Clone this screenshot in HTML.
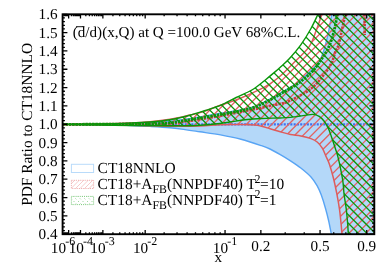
<!DOCTYPE html>
<html><head><meta charset="utf-8"><title>PDF Ratio</title>
<style>html,body{margin:0;padding:0;background:#fff;}body{width:390px;height:273px;overflow:hidden;font-family:"Liberation Serif",serif;}svg{display:block;will-change:transform;}</style>
</head><body>
<svg width="390" height="273" viewBox="0 0 390 273">
<defs>
<clipPath id="cf"><rect x="62.60" y="14.30" width="311.70" height="219.90"/></clipPath>
<clipPath id="cr"><path d="M62.40,124.40 C68.67,124.30 88.73,124.03 100.00,123.80 C111.27,123.57 121.67,123.33 130.00,123.00 C138.33,122.67 143.33,122.42 150.00,121.80 C156.67,121.18 163.33,120.43 170.00,119.30 C176.67,118.17 185.00,116.12 190.00,115.00 C195.00,113.88 194.92,114.22 200.00,112.60 C205.08,110.98 213.67,107.73 220.50,105.30 C227.33,102.87 234.17,100.77 241.00,98.00 C247.83,95.23 256.67,91.07 261.50,88.70 C266.33,86.33 266.92,85.87 270.00,83.80 C273.08,81.73 276.23,79.60 280.00,76.30 C283.77,73.00 287.77,68.90 292.60,64.00 C297.43,59.10 305.07,52.48 309.00,46.90 C312.93,41.32 314.05,35.98 316.20,30.50 C318.35,25.02 320.95,16.75 321.90,14.00 L374.30,14.30 L374.30,234.20 L342.00,234.00 C341.83,232.17 341.43,227.22 341.00,223.00 C340.57,218.78 340.10,213.58 339.40,208.70 C338.70,203.82 337.77,198.70 336.80,193.70 C335.83,188.70 334.82,183.58 333.60,178.70 C332.38,173.82 330.80,168.18 329.50,164.40 C328.20,160.62 327.00,158.70 325.80,156.00 C324.60,153.30 323.73,150.53 322.30,148.20 C320.87,145.87 319.08,143.60 317.20,142.00 C315.32,140.40 313.73,139.62 311.00,138.60 C308.27,137.58 304.22,136.58 300.80,135.90 C297.38,135.22 293.92,135.18 290.50,134.50 C287.08,133.82 283.72,132.77 280.30,131.80 C276.88,130.83 273.13,129.62 270.00,128.70 C266.87,127.78 264.00,126.92 261.50,126.30 C259.00,125.68 258.42,125.28 255.00,125.00 C251.58,124.72 246.83,124.63 241.00,124.60 C235.17,124.57 226.83,124.57 220.00,124.80 C213.17,125.03 208.33,125.75 200.00,126.00 C191.67,126.25 181.67,126.43 170.00,126.30 C158.33,126.17 147.93,125.52 130.00,125.20 C112.07,124.88 73.67,124.53 62.40,124.40 Z"/></clipPath>
<clipPath id="cg"><path d="M62.40,124.40 C68.67,124.32 88.73,124.12 100.00,123.90 C111.27,123.68 121.67,123.42 130.00,123.10 C138.33,122.78 143.33,122.57 150.00,122.00 C156.67,121.43 163.33,120.83 170.00,119.70 C176.67,118.57 184.10,116.73 190.00,115.20 C195.90,113.67 200.27,112.17 205.40,110.50 C210.53,108.83 215.67,107.37 220.80,105.20 C225.93,103.03 231.33,99.87 236.20,97.50 C241.07,95.13 246.87,92.58 250.00,91.00 C253.13,89.42 252.50,89.80 255.00,88.00 C257.50,86.20 261.67,82.88 265.00,80.20 C268.33,77.52 272.50,74.02 275.00,71.90 C277.50,69.78 277.58,69.73 280.00,67.50 C282.42,65.27 286.03,62.27 289.50,58.50 C292.97,54.73 297.22,49.90 300.80,44.90 C304.38,39.90 308.12,33.65 311.00,28.50 C313.88,23.35 316.92,16.42 318.10,14.00 L374.30,14.30 L374.30,234.20 L348.30,234.00 C348.18,232.17 347.95,227.22 347.60,223.00 C347.25,218.78 346.78,213.48 346.20,208.70 C345.62,203.92 344.67,198.95 344.10,194.30 C343.53,189.65 343.53,185.78 342.80,180.80 C342.07,175.82 340.55,168.53 339.70,164.40 C338.85,160.27 338.38,158.53 337.70,156.00 C337.02,153.47 336.63,152.38 335.60,149.20 C334.57,146.02 332.68,140.32 331.50,136.90 C330.32,133.48 329.68,131.27 328.50,128.70 C327.32,126.13 325.95,123.55 324.40,121.50 C322.85,119.45 321.10,117.58 319.20,116.40 C317.30,115.22 315.38,114.57 313.00,114.40 C310.62,114.23 308.65,114.90 304.90,115.40 C301.15,115.90 294.65,116.97 290.50,117.40 C286.35,117.83 284.83,117.82 280.00,118.00 C275.17,118.18 267.33,118.20 261.50,118.50 C255.67,118.80 250.25,119.22 245.00,119.80 C239.75,120.38 235.00,121.30 230.00,122.00 C225.00,122.70 220.00,123.47 215.00,124.00 C210.00,124.53 205.00,124.92 200.00,125.20 C195.00,125.48 190.00,125.60 185.00,125.70 C180.00,125.80 179.17,125.83 170.00,125.80 C160.83,125.77 147.93,125.73 130.00,125.50 C112.07,125.27 73.67,124.58 62.40,124.40 Z"/></clipPath>
</defs>
<rect width="390" height="273" fill="#fff"/>
<g clip-path="url(#cf)">
<path d="M62.40,124.40 C68.67,124.33 88.73,124.17 100.00,124.00 C111.27,123.83 121.67,123.63 130.00,123.40 C138.33,123.17 143.33,122.97 150.00,122.60 C156.67,122.23 164.17,121.75 170.00,121.20 C175.83,120.65 180.00,120.02 185.00,119.30 C190.00,118.58 194.08,117.90 200.00,116.90 C205.92,115.90 213.67,114.45 220.50,113.30 C227.33,112.15 235.25,111.15 241.00,110.00 C246.75,108.85 250.70,107.93 255.00,106.40 C259.30,104.87 263.47,102.47 266.80,100.80 C270.13,99.13 272.47,97.83 275.00,96.40 C277.53,94.97 279.42,93.73 282.00,92.20 C284.58,90.67 287.50,89.13 290.50,87.20 C293.50,85.27 296.58,83.37 300.00,80.60 C303.42,77.83 307.73,73.87 311.00,70.60 C314.27,67.33 317.28,64.95 319.60,61.00 C321.92,57.05 323.37,51.98 324.90,46.90 C326.43,41.82 327.65,35.98 328.80,30.50 C329.95,25.02 331.30,16.75 331.80,14.00 L374.30,14.30 L374.30,234.20 L331.30,234.00 C330.87,231.83 329.65,225.22 328.70,221.00 C327.75,216.78 326.83,213.02 325.60,208.70 C324.37,204.38 322.70,198.90 321.30,195.10 C319.90,191.30 318.92,188.92 317.20,185.90 C315.48,182.88 313.73,179.98 311.00,177.00 C308.27,174.02 304.22,170.70 300.80,168.00 C297.38,165.30 293.92,163.03 290.50,160.80 C287.08,158.57 283.72,156.57 280.30,154.60 C276.88,152.63 273.13,150.48 270.00,149.00 C266.87,147.52 266.33,147.32 261.50,145.70 C256.67,144.08 247.83,141.10 241.00,139.30 C234.17,137.50 227.33,136.15 220.50,134.90 C213.67,133.65 205.92,132.68 200.00,131.80 C194.08,130.92 190.00,130.28 185.00,129.60 C180.00,128.92 175.83,128.23 170.00,127.70 C164.17,127.17 156.67,126.77 150.00,126.40 C143.33,126.03 138.33,125.80 130.00,125.50 C121.67,125.20 111.27,124.78 100.00,124.60 C88.73,124.42 68.67,124.43 62.40,124.40 Z" fill="#b4d8f9"/>
<path d="M62.40,124.40 C68.67,124.33 88.73,124.17 100.00,124.00 C111.27,123.83 121.67,123.63 130.00,123.40 C138.33,123.17 143.33,122.97 150.00,122.60 C156.67,122.23 164.17,121.75 170.00,121.20 C175.83,120.65 180.00,120.02 185.00,119.30 C190.00,118.58 194.08,117.90 200.00,116.90 C205.92,115.90 213.67,114.45 220.50,113.30 C227.33,112.15 235.25,111.15 241.00,110.00 C246.75,108.85 250.70,107.93 255.00,106.40 C259.30,104.87 263.47,102.47 266.80,100.80 C270.13,99.13 272.47,97.83 275.00,96.40 C277.53,94.97 279.42,93.73 282.00,92.20 C284.58,90.67 287.50,89.13 290.50,87.20 C293.50,85.27 296.58,83.37 300.00,80.60 C303.42,77.83 307.73,73.87 311.00,70.60 C314.27,67.33 317.28,64.95 319.60,61.00 C321.92,57.05 323.37,51.98 324.90,46.90 C326.43,41.82 327.65,35.98 328.80,30.50 C329.95,25.02 331.30,16.75 331.80,14.00" fill="none" stroke="#58a4f4" stroke-width="1.4"/>
<path d="M62.40,124.40 C68.67,124.43 88.73,124.42 100.00,124.60 C111.27,124.78 121.67,125.20 130.00,125.50 C138.33,125.80 143.33,126.03 150.00,126.40 C156.67,126.77 164.17,127.17 170.00,127.70 C175.83,128.23 180.00,128.92 185.00,129.60 C190.00,130.28 194.08,130.92 200.00,131.80 C205.92,132.68 213.67,133.65 220.50,134.90 C227.33,136.15 234.17,137.50 241.00,139.30 C247.83,141.10 256.67,144.08 261.50,145.70 C266.33,147.32 266.87,147.52 270.00,149.00 C273.13,150.48 276.88,152.63 280.30,154.60 C283.72,156.57 287.08,158.57 290.50,160.80 C293.92,163.03 297.38,165.30 300.80,168.00 C304.22,170.70 308.27,174.02 311.00,177.00 C313.73,179.98 315.48,182.88 317.20,185.90 C318.92,188.92 319.90,191.30 321.30,195.10 C322.70,198.90 324.37,204.38 325.60,208.70 C326.83,213.02 327.75,216.78 328.70,221.00 C329.65,225.22 330.87,231.83 331.30,234.00" fill="none" stroke="#58a4f4" stroke-width="1.4"/>
<path d="M62.60,124.35 L374.30,124.35" stroke="#3f6ff0" stroke-width="2.4" stroke-dasharray="2.1 1.2" fill="none"/>
<g clip-path="url(#cr)"><path d="M50.00,7.70 L390.00,-332.30 M50.00,16.16 L390.00,-323.84 M50.00,24.62 L390.00,-315.38 M50.00,33.08 L390.00,-306.92 M50.00,41.54 L390.00,-298.46 M50.00,50.00 L390.00,-290.00 M50.00,58.46 L390.00,-281.54 M50.00,66.92 L390.00,-273.08 M50.00,75.38 L390.00,-264.62 M50.00,83.84 L390.00,-256.16 M50.00,92.30 L390.00,-247.70 M50.00,100.76 L390.00,-239.24 M50.00,109.22 L390.00,-230.78 M50.00,117.68 L390.00,-222.32 M50.00,126.14 L390.00,-213.86 M50.00,134.60 L390.00,-205.40 M50.00,143.06 L390.00,-196.94 M50.00,151.52 L390.00,-188.48 M50.00,159.98 L390.00,-180.02 M50.00,168.44 L390.00,-171.56 M50.00,176.90 L390.00,-163.10 M50.00,185.36 L390.00,-154.64 M50.00,193.82 L390.00,-146.18 M50.00,202.28 L390.00,-137.72 M50.00,210.74 L390.00,-129.26 M50.00,219.20 L390.00,-120.80 M50.00,227.66 L390.00,-112.34 M50.00,236.12 L390.00,-103.88 M50.00,244.58 L390.00,-95.42 M50.00,253.04 L390.00,-86.96 M50.00,261.50 L390.00,-78.50 M50.00,269.96 L390.00,-70.04 M50.00,278.42 L390.00,-61.58 M50.00,286.88 L390.00,-53.12 M50.00,295.34 L390.00,-44.66 M50.00,303.80 L390.00,-36.20 M50.00,312.26 L390.00,-27.74 M50.00,320.72 L390.00,-19.28 M50.00,329.18 L390.00,-10.82 M50.00,337.64 L390.00,-2.36 M50.00,346.10 L390.00,6.10 M50.00,354.56 L390.00,14.56 M50.00,363.02 L390.00,23.02 M50.00,371.48 L390.00,31.48 M50.00,379.94 L390.00,39.94 M50.00,388.40 L390.00,48.40 M50.00,396.86 L390.00,56.86 M50.00,405.32 L390.00,65.32 M50.00,413.78 L390.00,73.78 M50.00,422.24 L390.00,82.24 M50.00,430.70 L390.00,90.70 M50.00,439.16 L390.00,99.16 M50.00,447.62 L390.00,107.62 M50.00,456.08 L390.00,116.08 M50.00,464.54 L390.00,124.54 M50.00,473.00 L390.00,133.00 M50.00,481.46 L390.00,141.46 M50.00,489.92 L390.00,149.92 M50.00,498.38 L390.00,158.38 M50.00,506.84 L390.00,166.84 M50.00,515.30 L390.00,175.30 M50.00,523.76 L390.00,183.76 M50.00,532.22 L390.00,192.22 M50.00,540.68 L390.00,200.68 M50.00,549.14 L390.00,209.14 M50.00,557.60 L390.00,217.60 M50.00,566.06 L390.00,226.06 M50.00,574.52 L390.00,234.52 M50.00,582.98 L390.00,242.98 M50.00,591.44 L390.00,251.44 M50.00,599.90 L390.00,259.90 M50.00,608.36 L390.00,268.36" stroke="#e06464" stroke-width="1.35" fill="none"/></g>
<path d="M62.40,124.40 C68.67,124.30 88.73,124.03 100.00,123.80 C111.27,123.57 121.67,123.33 130.00,123.00 C138.33,122.67 143.33,122.42 150.00,121.80 C156.67,121.18 163.33,120.43 170.00,119.30 C176.67,118.17 185.00,116.12 190.00,115.00 C195.00,113.88 194.92,114.22 200.00,112.60 C205.08,110.98 213.67,107.73 220.50,105.30 C227.33,102.87 234.17,100.77 241.00,98.00 C247.83,95.23 256.67,91.07 261.50,88.70 C266.33,86.33 266.92,85.87 270.00,83.80 C273.08,81.73 276.23,79.60 280.00,76.30 C283.77,73.00 287.77,68.90 292.60,64.00 C297.43,59.10 305.07,52.48 309.00,46.90 C312.93,41.32 314.05,35.98 316.20,30.50 C318.35,25.02 320.95,16.75 321.90,14.00" fill="none" stroke="#de5c5c" stroke-width="1.5"/>
<path d="M62.40,124.40 C73.67,124.53 112.07,124.88 130.00,125.20 C147.93,125.52 158.33,126.17 170.00,126.30 C181.67,126.43 191.67,126.25 200.00,126.00 C208.33,125.75 213.17,125.03 220.00,124.80 C226.83,124.57 235.17,124.57 241.00,124.60 C246.83,124.63 251.58,124.72 255.00,125.00 C258.42,125.28 259.00,125.68 261.50,126.30 C264.00,126.92 266.87,127.78 270.00,128.70 C273.13,129.62 276.88,130.83 280.30,131.80 C283.72,132.77 287.08,133.82 290.50,134.50 C293.92,135.18 297.38,135.22 300.80,135.90 C304.22,136.58 308.27,137.58 311.00,138.60 C313.73,139.62 315.32,140.40 317.20,142.00 C319.08,143.60 320.87,145.87 322.30,148.20 C323.73,150.53 324.60,153.30 325.80,156.00 C327.00,158.70 328.20,160.62 329.50,164.40 C330.80,168.18 332.38,173.82 333.60,178.70 C334.82,183.58 335.83,188.70 336.80,193.70 C337.77,198.70 338.70,203.82 339.40,208.70 C340.10,213.58 340.57,218.78 341.00,223.00 C341.43,227.22 341.83,232.17 342.00,234.00" fill="none" stroke="#de5c5c" stroke-width="1.5"/>
<path d="M62.40,124.40 C77.00,124.33 132.07,124.15 150.00,124.00 C167.93,123.85 164.17,123.92 170.00,123.50 C175.83,123.08 180.00,122.20 185.00,121.50 C190.00,120.80 194.08,120.25 200.00,119.30 C205.92,118.35 213.67,117.05 220.50,115.80 C227.33,114.55 234.17,113.13 241.00,111.80 C247.83,110.47 256.67,108.80 261.50,107.80 C266.33,106.80 266.92,106.47 270.00,105.80 C273.08,105.13 276.58,104.68 280.00,103.80 C283.42,102.92 285.33,103.02 290.50,100.50 C295.67,97.98 305.53,92.88 311.00,88.70 C316.47,84.52 319.88,79.68 323.30,75.40 C326.72,71.12 329.45,67.07 331.50,63.00 C333.55,58.93 334.42,54.02 335.60,51.00 C336.78,47.98 337.57,48.32 338.60,44.90 C339.63,41.48 340.67,35.65 341.80,30.50 C342.93,25.35 344.80,16.75 345.40,14.00" fill="none" stroke="#c83c3c" stroke-width="2.6" stroke-dasharray="2.4 0.9"/>
<path d="M364.6,14 L364.7,35" fill="none" stroke="#c83c3c" stroke-width="2.6" stroke-dasharray="2.4 0.9"/>
<g clip-path="url(#cg)"><path d="M50.00,-337.30 L390.00,2.70 M50.00,-328.84 L390.00,11.16 M50.00,-320.38 L390.00,19.62 M50.00,-311.92 L390.00,28.08 M50.00,-303.46 L390.00,36.54 M50.00,-295.00 L390.00,45.00 M50.00,-286.54 L390.00,53.46 M50.00,-278.08 L390.00,61.92 M50.00,-269.62 L390.00,70.38 M50.00,-261.16 L390.00,78.84 M50.00,-252.70 L390.00,87.30 M50.00,-244.24 L390.00,95.76 M50.00,-235.78 L390.00,104.22 M50.00,-227.32 L390.00,112.68 M50.00,-218.86 L390.00,121.14 M50.00,-210.40 L390.00,129.60 M50.00,-201.94 L390.00,138.06 M50.00,-193.48 L390.00,146.52 M50.00,-185.02 L390.00,154.98 M50.00,-176.56 L390.00,163.44 M50.00,-168.10 L390.00,171.90 M50.00,-159.64 L390.00,180.36 M50.00,-151.18 L390.00,188.82 M50.00,-142.72 L390.00,197.28 M50.00,-134.26 L390.00,205.74 M50.00,-125.80 L390.00,214.20 M50.00,-117.34 L390.00,222.66 M50.00,-108.88 L390.00,231.12 M50.00,-100.42 L390.00,239.58 M50.00,-91.96 L390.00,248.04 M50.00,-83.50 L390.00,256.50 M50.00,-75.04 L390.00,264.96 M50.00,-66.58 L390.00,273.42 M50.00,-58.12 L390.00,281.88 M50.00,-49.66 L390.00,290.34 M50.00,-41.20 L390.00,298.80 M50.00,-32.74 L390.00,307.26 M50.00,-24.28 L390.00,315.72 M50.00,-15.82 L390.00,324.18 M50.00,-7.36 L390.00,332.64 M50.00,1.10 L390.00,341.10 M50.00,9.56 L390.00,349.56 M50.00,18.02 L390.00,358.02 M50.00,26.48 L390.00,366.48 M50.00,34.94 L390.00,374.94 M50.00,43.40 L390.00,383.40 M50.00,51.86 L390.00,391.86 M50.00,60.32 L390.00,400.32 M50.00,68.78 L390.00,408.78 M50.00,77.24 L390.00,417.24 M50.00,85.70 L390.00,425.70 M50.00,94.16 L390.00,434.16 M50.00,102.62 L390.00,442.62 M50.00,111.08 L390.00,451.08 M50.00,119.54 L390.00,459.54 M50.00,128.00 L390.00,468.00 M50.00,136.46 L390.00,476.46 M50.00,144.92 L390.00,484.92 M50.00,153.38 L390.00,493.38 M50.00,161.84 L390.00,501.84 M50.00,170.30 L390.00,510.30 M50.00,178.76 L390.00,518.76 M50.00,187.22 L390.00,527.22 M50.00,195.68 L390.00,535.68 M50.00,204.14 L390.00,544.14 M50.00,212.60 L390.00,552.60 M50.00,221.06 L390.00,561.06 M50.00,229.52 L390.00,569.52 M50.00,237.98 L390.00,577.98 M50.00,246.44 L390.00,586.44 M50.00,254.90 L390.00,594.90 M50.00,263.36 L390.00,603.36 M50.00,271.82 L390.00,611.82" stroke="#0a960a" stroke-width="1.3" fill="none"/></g>
<path d="M62.40,124.40 C68.67,124.32 88.73,124.12 100.00,123.90 C111.27,123.68 121.67,123.42 130.00,123.10 C138.33,122.78 143.33,122.57 150.00,122.00 C156.67,121.43 163.33,120.83 170.00,119.70 C176.67,118.57 184.10,116.73 190.00,115.20 C195.90,113.67 200.27,112.17 205.40,110.50 C210.53,108.83 215.67,107.37 220.80,105.20 C225.93,103.03 231.33,99.87 236.20,97.50 C241.07,95.13 246.87,92.58 250.00,91.00 C253.13,89.42 252.50,89.80 255.00,88.00 C257.50,86.20 261.67,82.88 265.00,80.20 C268.33,77.52 272.50,74.02 275.00,71.90 C277.50,69.78 277.58,69.73 280.00,67.50 C282.42,65.27 286.03,62.27 289.50,58.50 C292.97,54.73 297.22,49.90 300.80,44.90 C304.38,39.90 308.12,33.65 311.00,28.50 C313.88,23.35 316.92,16.42 318.10,14.00" fill="none" stroke="#0a960a" stroke-width="1.4"/>
<path d="M62.40,124.40 C73.67,124.58 112.07,125.27 130.00,125.50 C147.93,125.73 160.83,125.77 170.00,125.80 C179.17,125.83 180.00,125.80 185.00,125.70 C190.00,125.60 195.00,125.48 200.00,125.20 C205.00,124.92 210.00,124.53 215.00,124.00 C220.00,123.47 225.00,122.70 230.00,122.00 C235.00,121.30 239.75,120.38 245.00,119.80 C250.25,119.22 255.67,118.80 261.50,118.50 C267.33,118.20 275.17,118.18 280.00,118.00 C284.83,117.82 286.35,117.83 290.50,117.40 C294.65,116.97 301.15,115.90 304.90,115.40 C308.65,114.90 310.62,114.23 313.00,114.40 C315.38,114.57 317.30,115.22 319.20,116.40 C321.10,117.58 322.85,119.45 324.40,121.50 C325.95,123.55 327.32,126.13 328.50,128.70 C329.68,131.27 330.32,133.48 331.50,136.90 C332.68,140.32 334.57,146.02 335.60,149.20 C336.63,152.38 337.02,153.47 337.70,156.00 C338.38,158.53 338.85,160.27 339.70,164.40 C340.55,168.53 342.07,175.82 342.80,180.80 C343.53,185.78 343.53,189.65 344.10,194.30 C344.67,198.95 345.62,203.92 346.20,208.70 C346.78,213.48 347.25,218.78 347.60,223.00 C347.95,227.22 348.18,232.17 348.30,234.00" fill="none" stroke="#0a960a" stroke-width="1.4"/>
<path d="M62.40,124.40 C73.67,124.33 115.40,124.10 130.00,124.00 C144.60,123.90 143.33,124.00 150.00,123.80 C156.67,123.60 164.17,123.35 170.00,122.80 C175.83,122.25 180.00,121.30 185.00,120.50 C190.00,119.70 194.17,118.98 200.00,118.00 C205.83,117.02 213.17,115.83 220.00,114.60 C226.83,113.37 235.17,111.87 241.00,110.60 C246.83,109.33 250.70,108.52 255.00,107.00 C259.30,105.48 263.47,103.13 266.80,101.50 C270.13,99.87 272.47,98.62 275.00,97.20 C277.53,95.78 278.38,95.13 282.00,93.00 C285.62,90.87 291.87,87.77 296.70,84.40 C301.53,81.03 307.07,76.70 311.00,72.80 C314.93,68.90 317.33,65.32 320.30,61.00 C323.27,56.68 326.48,51.98 328.80,46.90 C331.12,41.82 332.77,35.98 334.20,30.50 C335.63,25.02 336.87,16.75 337.40,14.00" fill="none" stroke="#0a960a" stroke-width="2.8" stroke-dasharray="2.4 0.9"/>
</g>
<rect x="62.60" y="14.30" width="311.70" height="219.90" fill="none" stroke="#000" stroke-width="1.9"/>
<path d="M62.60,234.20 h4.80 M374.30,234.20 h-4.80 M62.60,230.53 h2.30 M374.30,230.53 h-2.30 M62.60,226.87 h2.30 M374.30,226.87 h-2.30 M62.60,223.20 h2.30 M374.30,223.20 h-2.30 M62.60,219.54 h2.30 M374.30,219.54 h-2.30 M62.60,215.88 h4.80 M374.30,215.88 h-4.80 M62.60,212.21 h2.30 M374.30,212.21 h-2.30 M62.60,208.54 h2.30 M374.30,208.54 h-2.30 M62.60,204.88 h2.30 M374.30,204.88 h-2.30 M62.60,201.21 h2.30 M374.30,201.21 h-2.30 M62.60,197.55 h4.80 M374.30,197.55 h-4.80 M62.60,193.88 h2.30 M374.30,193.88 h-2.30 M62.60,190.22 h2.30 M374.30,190.22 h-2.30 M62.60,186.55 h2.30 M374.30,186.55 h-2.30 M62.60,182.89 h2.30 M374.30,182.89 h-2.30 M62.60,179.22 h4.80 M374.30,179.22 h-4.80 M62.60,175.56 h2.30 M374.30,175.56 h-2.30 M62.60,171.89 h2.30 M374.30,171.89 h-2.30 M62.60,168.23 h2.30 M374.30,168.23 h-2.30 M62.60,164.56 h2.30 M374.30,164.56 h-2.30 M62.60,160.90 h4.80 M374.30,160.90 h-4.80 M62.60,157.23 h2.30 M374.30,157.23 h-2.30 M62.60,153.57 h2.30 M374.30,153.57 h-2.30 M62.60,149.90 h2.30 M374.30,149.90 h-2.30 M62.60,146.24 h2.30 M374.30,146.24 h-2.30 M62.60,142.57 h4.80 M374.30,142.57 h-4.80 M62.60,138.91 h2.30 M374.30,138.91 h-2.30 M62.60,135.25 h2.30 M374.30,135.25 h-2.30 M62.60,131.58 h2.30 M374.30,131.58 h-2.30 M62.60,127.92 h2.30 M374.30,127.92 h-2.30 M62.60,124.25 h4.80 M374.30,124.25 h-4.80 M62.60,120.58 h2.30 M374.30,120.58 h-2.30 M62.60,116.92 h2.30 M374.30,116.92 h-2.30 M62.60,113.25 h2.30 M374.30,113.25 h-2.30 M62.60,109.59 h2.30 M374.30,109.59 h-2.30 M62.60,105.92 h4.80 M374.30,105.92 h-4.80 M62.60,102.26 h2.30 M374.30,102.26 h-2.30 M62.60,98.59 h2.30 M374.30,98.59 h-2.30 M62.60,94.93 h2.30 M374.30,94.93 h-2.30 M62.60,91.26 h2.30 M374.30,91.26 h-2.30 M62.60,87.60 h4.80 M374.30,87.60 h-4.80 M62.60,83.93 h2.30 M374.30,83.93 h-2.30 M62.60,80.27 h2.30 M374.30,80.27 h-2.30 M62.60,76.60 h2.30 M374.30,76.60 h-2.30 M62.60,72.94 h2.30 M374.30,72.94 h-2.30 M62.60,69.27 h4.80 M374.30,69.27 h-4.80 M62.60,65.61 h2.30 M374.30,65.61 h-2.30 M62.60,61.94 h2.30 M374.30,61.94 h-2.30 M62.60,58.28 h2.30 M374.30,58.28 h-2.30 M62.60,54.62 h2.30 M374.30,54.62 h-2.30 M62.60,50.95 h4.80 M374.30,50.95 h-4.80 M62.60,47.28 h2.30 M374.30,47.28 h-2.30 M62.60,43.62 h2.30 M374.30,43.62 h-2.30 M62.60,39.95 h2.30 M374.30,39.95 h-2.30 M62.60,36.29 h2.30 M374.30,36.29 h-2.30 M62.60,32.62 h4.80 M374.30,32.62 h-4.80 M62.60,28.96 h2.30 M374.30,28.96 h-2.30 M62.60,25.29 h2.30 M374.30,25.29 h-2.30 M62.60,21.63 h2.30 M374.30,21.63 h-2.30 M62.60,17.96 h2.30 M374.30,17.96 h-2.30 M62.60,14.30 h4.80 M374.30,14.30 h-4.80 M68.64,234.20 v-4.20 M68.64,14.30 v4.20 M80.49,234.20 v-4.20 M80.49,14.30 v4.20 M102.88,234.20 v-4.20 M102.88,14.30 v4.20 M145.18,234.20 v-4.20 M145.18,14.30 v4.20 M225.05,234.20 v-4.20 M225.05,14.30 v4.20 M260.86,234.20 v-4.20 M260.86,14.30 v4.20 M320.05,234.20 v-4.20 M320.05,14.30 v4.20 M366.71,234.20 v-4.20 M366.71,14.30 v4.20 M63.85,234.20 v-2.00 M63.85,14.30 v2.00 M64.86,234.20 v-2.00 M64.86,14.30 v2.00 M65.65,234.20 v-2.00 M65.65,14.30 v2.00 M66.31,234.20 v-2.00 M66.31,14.30 v2.00 M66.88,234.20 v-2.00 M66.88,14.30 v2.00 M67.38,234.20 v-2.00 M67.38,14.30 v2.00 M67.84,234.20 v-2.00 M67.84,14.30 v2.00 M68.25,234.20 v-2.00 M68.25,14.30 v2.00 M71.45,234.20 v-2.00 M71.45,14.30 v2.00 M73.36,234.20 v-2.00 M73.36,14.30 v2.00 M74.86,234.20 v-2.00 M74.86,14.30 v2.00 M76.10,234.20 v-2.00 M76.10,14.30 v2.00 M77.18,234.20 v-2.00 M77.18,14.30 v2.00 M78.13,234.20 v-2.00 M78.13,14.30 v2.00 M78.99,234.20 v-2.00 M78.99,14.30 v2.00 M79.77,234.20 v-2.00 M79.77,14.30 v2.00 M85.81,234.20 v-2.00 M85.81,14.30 v2.00 M89.42,234.20 v-2.00 M89.42,14.30 v2.00 M92.24,234.20 v-2.00 M92.24,14.30 v2.00 M94.59,234.20 v-2.00 M94.59,14.30 v2.00 M96.62,234.20 v-2.00 M96.62,14.30 v2.00 M98.42,234.20 v-2.00 M98.42,14.30 v2.00 M100.04,234.20 v-2.00 M100.04,14.30 v2.00 M101.52,234.20 v-2.00 M101.52,14.30 v2.00 M112.92,234.20 v-2.00 M112.92,14.30 v2.00 M119.75,234.20 v-2.00 M119.75,14.30 v2.00 M125.08,234.20 v-2.00 M125.08,14.30 v2.00 M129.52,234.20 v-2.00 M129.52,14.30 v2.00 M133.35,234.20 v-2.00 M133.35,14.30 v2.00 M136.74,234.20 v-2.00 M136.74,14.30 v2.00 M139.80,234.20 v-2.00 M139.80,14.30 v2.00 M142.60,234.20 v-2.00 M142.60,14.30 v2.00 M164.14,234.20 v-2.00 M164.14,14.30 v2.00 M177.03,234.20 v-2.00 M177.03,14.30 v2.00 M187.10,234.20 v-2.00 M187.10,14.30 v2.00 M195.48,234.20 v-2.00 M195.48,14.30 v2.00 M202.72,234.20 v-2.00 M202.72,14.30 v2.00 M209.13,234.20 v-2.00 M209.13,14.30 v2.00 M214.90,234.20 v-2.00 M214.90,14.30 v2.00 M220.18,234.20 v-2.00 M220.18,14.30 v2.00 M285.22,234.20 v-2.00 M285.22,14.30 v2.00 M304.23,234.20 v-2.00 M304.23,14.30 v2.00 M333.72,234.20 v-2.00 M333.72,14.30 v2.00 M345.83,234.20 v-2.00 M345.83,14.30 v2.00 M356.74,234.20 v-2.00 M356.74,14.30 v2.00" stroke="#000" stroke-width="1.3" fill="none"/>
<g font-family="Liberation Serif, serif" font-size="15.2" fill="#000" text-rendering="geometricPrecision">
<text x="57.6" y="239.30" text-anchor="end">0.4</text>
<text x="57.6" y="220.97" text-anchor="end">0.5</text>
<text x="57.6" y="202.65" text-anchor="end">0.6</text>
<text x="57.6" y="184.32" text-anchor="end">0.7</text>
<text x="57.6" y="166.00" text-anchor="end">0.8</text>
<text x="57.6" y="147.67" text-anchor="end">0.9</text>
<text x="57.6" y="129.35" text-anchor="end">1.0</text>
<text x="57.6" y="111.02" text-anchor="end">1.1</text>
<text x="57.6" y="92.70" text-anchor="end">1.2</text>
<text x="57.6" y="74.37" text-anchor="end">1.3</text>
<text x="57.6" y="56.05" text-anchor="end">1.4</text>
<text x="57.6" y="37.73" text-anchor="end">1.5</text>
<text x="57.6" y="19.40" text-anchor="end">1.6</text>
<text x="63.00" y="252.60" text-anchor="middle">10<tspan dy="-7.4" dx="-0.8" font-size="12">-6</tspan></text>
<text x="80.89" y="252.60" text-anchor="middle">10<tspan dy="-7.4" dx="-0.8" font-size="12">-4</tspan></text>
<text x="102.48" y="252.60" text-anchor="middle">10<tspan dy="-7.4" dx="-0.8" font-size="12">-3</tspan></text>
<text x="145.18" y="252.60" text-anchor="middle">10<tspan dy="-7.4" dx="-0.8" font-size="12">-2</tspan></text>
<text x="225.05" y="252.60" text-anchor="middle">10<tspan dy="-7.4" dx="-0.8" font-size="12">-1</tspan></text>
<text x="260.86" y="251.3" text-anchor="middle">0.2</text>
<text x="320.05" y="251.3" text-anchor="middle">0.5</text>
<text x="366.71" y="251.3" text-anchor="middle">0.9</text>
<text x="218.2" y="262.3" text-anchor="middle">x</text>
<text transform="translate(31.7,124.4) rotate(-90)" text-anchor="middle" font-size="15.4">PDF Ratio to CT18NNLO</text>
<text x="72.8" y="36.6" font-size="15.1">(d/d)(x,Q) at Q =100.0 GeV 68%C.L.</text>
<path d="M76.0,26.7 h8.4" stroke="#000" stroke-width="0.9"/>
<text x="97.6" y="172.9" font-size="15.45">CT18NNLO</text>
<text x="97.6" y="189.1" font-size="15.4">CT18+A<tspan dy="4.0" font-size="11.8">FB</tspan><tspan dy="-4.0">(NNPDF40) T</tspan><tspan dy="-6.6" dx="-1.6" font-size="12">2</tspan><tspan dy="6.6" dx="-0.3">=10</tspan></text>
<text x="97.6" y="205.0" font-size="15.4">CT18+A<tspan dy="4.0" font-size="11.8">FB</tspan><tspan dy="-4.0">(NNPDF40) T</tspan><tspan dy="-6.6" dx="-1.6" font-size="12">2</tspan><tspan dy="6.6" dx="-0.3">=1</tspan></text>
</g>
<rect x="71.4" y="164.3" width="22.2" height="8.2" fill="#fff" stroke="#b9dbfa" stroke-width="1"/>
<clipPath id="l2"><rect x="71.4" y="180.3" width="22.2" height="8.2"/></clipPath>
<g clip-path="url(#l2)"><path d="M66.0,189 l9,-9 M70.5,189 l9,-9 M75.0,189 l9,-9 M79.5,189 l9,-9 M84.0,189 l9,-9 M88.5,189 l9,-9 M93.0,189 l9,-9 M97.5,189 l9,-9" stroke="#f5c4c4" stroke-width="0.9" fill="none"/></g>
<rect x="71.4" y="180.3" width="22.2" height="8.2" fill="none" stroke="#eb9f9f" stroke-width="0.8" stroke-dasharray="1.2 1"/>
<clipPath id="l3"><rect x="71.4" y="196.4" width="22.2" height="8.2"/></clipPath>
<g clip-path="url(#l3)"><path d="M64.0,196 l9,9 M68.5,196 l9,9 M73.0,196 l9,9 M77.5,196 l9,9 M82.0,196 l9,9 M86.5,196 l9,9 M91.0,196 l9,9 M95.5,196 l9,9" stroke="#7fca7f" stroke-width="1" stroke-dasharray="1 2.6" fill="none"/></g>
<rect x="71.4" y="196.4" width="22.2" height="8.2" fill="none" stroke="#6cc26c" stroke-width="0.9" stroke-dasharray="1 1.1"/>
</svg>
</body></html>
